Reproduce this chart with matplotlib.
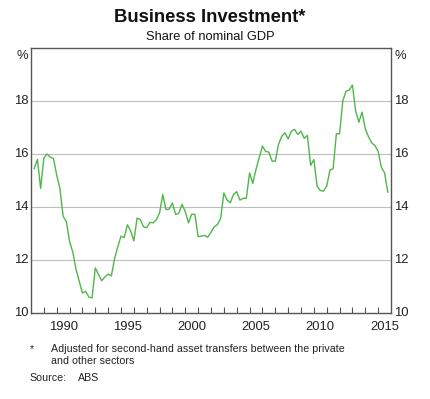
import numpy as np
import matplotlib
matplotlib.use("Agg")
import matplotlib.pyplot as plt
from matplotlib.ticker import FixedLocator, NullFormatter

plt.rcParams['font.family'] = ['Liberation Sans', 'DejaVu Sans']

# quarterly business investment, share of nominal GDP (%), 1988 Q1 .. 2015 Q3
start_year = 1988.25
investment = [
    15.45, 15.8, 14.7, 15.85, 16.0, 15.88, 15.83, 15.2,
    14.7, 13.65, 13.45, 12.7, 12.3, 11.65, 11.2, 10.75,
    10.82, 10.6, 10.57, 11.7, 11.45, 11.22, 11.36, 11.47,
    11.4, 12.05, 12.5, 12.9, 12.85, 13.33, 13.1, 12.72,
    13.58, 13.53, 13.25, 13.22, 13.42, 13.4, 13.52, 13.78,
    14.47, 13.9, 13.92, 14.15, 13.72, 13.76, 14.1, 13.82,
    13.4, 13.73, 13.72, 12.88,
    12.9, 12.93, 12.86, 13.05, 13.25, 13.34, 13.56, 14.53,
    14.26, 14.16, 14.47, 14.58, 14.26, 14.33, 14.33, 15.29,
    14.89, 15.42, 15.86, 16.3, 16.1, 16.07, 15.73, 15.73,
    16.36, 16.67, 16.8, 16.57, 16.86, 16.93, 16.74, 16.86,
    16.59, 16.7, 15.57, 15.79, 14.79, 14.62, 14.6, 14.79,
    15.39, 15.45, 16.76, 16.76, 18.0, 18.37, 18.41, 18.6,
    17.62, 17.2, 17.58, 16.95, 16.65, 16.42, 16.32, 16.1,
    15.5, 15.29, 14.56,
]
years = start_year + 0.25 * np.arange(len(investment))

year_labels = [1990, 1995, 2000, 2005, 2010, 2015]
y_ticks = [10, 12, 14, 16, 18]

fig = plt.figure(figsize=(4.31, 3.99), dpi=100)
ax = fig.add_axes([31 / 431, 1 - 313 / 399, 360 / 431, 265 / 399])

ax.plot(years, investment, color='#4cb848', linewidth=1.0, zorder=3)

ax.set_xlim(1988, 2016)
ax.set_ylim(10, 20)

for y in y_ticks[1:]:
    ax.axhline(y, color='#bdbdbd', linewidth=0.8, zorder=1)

# year ticks on the bottom, labels in the middle of the year
ax.xaxis.set_major_locator(FixedLocator(np.arange(1989, 2016)))
ax.xaxis.set_major_formatter(NullFormatter())
ax.tick_params(axis='x', which='major', direction='in', length=4, width=0.8, color='#555555')
ax.set_yticks([])
fs = 9.4
for yr in year_labels:
    ax.text(yr + 0.5, 9.47, str(yr), ha='center', va='center', fontsize=fs, color='#222222')

for y in y_ticks:
    ax.text(1987.8, y, str(y), ha='right', va='center', fontsize=fs, color='#222222')
    ax.text(2016.25, y, str(y), ha='left', va='center', fontsize=fs, color='#222222')
ax.text(1987.8, 19.7, '%', ha='right', va='center', fontsize=fs, color='#222222')
ax.text(2016.25, 19.7, '%', ha='left', va='center', fontsize=fs, color='#222222')

for s in ax.spines.values():
    s.set_color('#555555')
    s.set_linewidth(1.0)

fig.text(210 / 431, 1 - 18 / 399, 'Business Investment*', ha='center', va='center',
         fontsize=13.3, fontweight='bold', color='#111111')
fig.text(210 / 431, 1 - 36.5 / 399, 'Share of nominal GDP', ha='center', va='center',
         fontsize=9.3, color='#111111')

fn = 7.7
fig.text(30 / 431, 1 - 349 / 399, '*', ha='left', va='center', fontsize=fn, color='#222222')
fig.text(51 / 431, 1 - 349 / 399, 'Adjusted for second-hand asset transfers between the private',
         ha='left', va='center', fontsize=fn, color='#222222')
fig.text(51 / 431, 1 - 361.5 / 399, 'and other sectors', ha='left', va='center',
         fontsize=fn, color='#222222')
fig.text(29 / 431, 1 - 378 / 399, 'Source:', ha='left', va='center', fontsize=fn, color='#222222')
fig.text(78 / 431, 1 - 378 / 399, 'ABS', ha='left', va='center', fontsize=fn, color='#222222')

fig.savefig('out.png', dpi=100)
